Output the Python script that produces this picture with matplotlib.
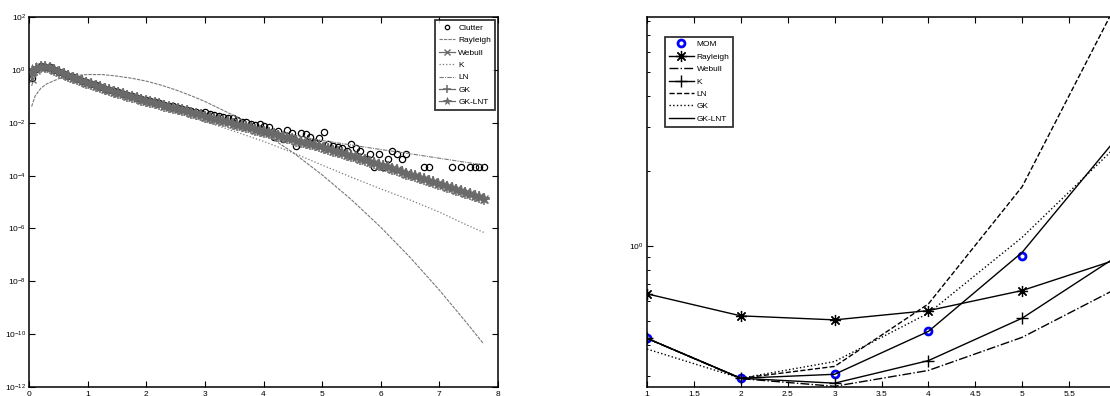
import numpy as np
import matplotlib
matplotlib.use('Agg')
import matplotlib.pyplot as plt
from matplotlib.ticker import LogLocator, NullFormatter, FixedLocator

plt.rcParams['font.family'] = ['Liberation Sans', 'DejaVu Sans']
plt.rcParams['mathtext.fontset'] = 'custom'
plt.rcParams['mathtext.rm'] = 'Liberation Sans'
plt.rcParams['mathtext.default'] = 'regular'

# ---- left panel: amplitude pdf fits (log10 of density) ----
bins = np.linspace(0.039, 7.761, 100)   # histogram bin centres
nan = np.nan

clutter_log = [
    -0.30, 0.05, 0.14, 0.12, 0.10, 0.02, -0.06, -0.14, -0.22, -0.28,
    -0.34, -0.41, -0.47, -0.53, -0.58, -0.64, -0.70, -0.75, -0.80, -0.85,
    -0.90, -0.95, -1.00, -1.04, -1.09, -1.14, -1.18, -1.22, -1.26, -1.31,
    -1.35, -1.38, -1.43, -1.47, -1.50, -1.54, -1.58, -1.63, -1.58, -1.68,
    -1.70, -1.74, -1.77, -1.80, -1.83, -1.90, -1.96, -1.98, -2.05, -2.08,
    -2.06, -2.12, -2.15, -2.52, -2.30, -2.62, -2.27, -2.40, -2.88, -2.37,
    -2.44, -2.52, -2.71, -2.56, -2.34, -2.81, -2.88, -2.92, -2.96, -3.06,
    -2.81, -2.96, -3.06, -3.36, -3.18, -3.66, -3.18, -3.66, -3.36, -3.06,
    -3.18, -3.36, -3.18, nan, nan, nan, -3.66, -3.66, nan, nan,
    nan, nan, -3.66, nan, -3.66, nan, -3.66, -3.66, -3.66, -3.66,
]

gklnt_log = [
    0.00, 0.09, 0.13, 0.12, 0.07, 0.00, -0.07, -0.15, -0.22, -0.29,
    -0.35, -0.42, -0.48, -0.54, -0.60, -0.65, -0.71, -0.77, -0.82, -0.87,
    -0.92, -0.97, -1.02, -1.07, -1.12, -1.17, -1.21, -1.26, -1.30, -1.35,
    -1.39, -1.44, -1.48, -1.53, -1.57, -1.62, -1.67, -1.71, -1.76, -1.80,
    -1.85, -1.89, -1.94, -1.98, -2.03, -2.08, -2.12, -2.17, -2.21, -2.26,
    -2.30, -2.35, -2.40, -2.44, -2.49, -2.53, -2.58, -2.62, -2.67, -2.71,
    -2.76, -2.80, -2.85, -2.89, -2.94, -2.99, -3.05, -3.10, -3.15, -3.21,
    -3.26, -3.31, -3.37, -3.42, -3.47, -3.52, -3.58, -3.64, -3.69, -3.75,
    -3.80, -3.86, -3.92, -3.97, -4.03, -4.08, -4.14, -4.20, -4.25, -4.31,
    -4.36, -4.42, -4.48, -4.53, -4.59, -4.64, -4.70, -4.76, -4.81, -4.87,
]
# Webull and GK only part from GK-LNT over the first few bins
webull_head = [-0.35, 0.02, 0.10, 0.11]
gk_head = [-0.20, 0.05, 0.12, 0.12]
webull_log = webull_head + gklnt_log[4:]
gk_log = gk_head + gklnt_log[4:]

ray_x = [0.04, 0.1, 0.2, 0.3, 0.5, 0.75, 1.0, 1.25, 1.5, 1.75, 2.0, 2.25, 2.5,
         2.75, 3.0, 3.5, 4.0, 4.5, 5.0, 5.5, 6.0, 6.5, 7.0, 7.5, 7.76]
ray_log = [-1.38, -0.98, -0.68, -0.52, -0.33, -0.21, -0.17, -0.17, -0.23, -0.31,
           -0.42, -0.57, -0.75, -0.96, -1.19, -1.73, -2.38, -3.12, -3.97, -4.91,
           -5.95, -7.09, -8.33, -9.66, -10.38]

tail_x = [0.04, 0.12, 0.2, 0.3, 0.5, 1.0, 1.5, 2.0, 2.5, 3.0,
          3.5, 4.0, 4.5, 5.0, 5.5, 6.0, 6.5, 7.0, 7.5, 7.76]
k_log = [-0.15, 0.05, 0.10, 0.07, -0.10, -0.55, -0.92, -1.25, -1.60, -1.95,
         -2.32, -2.70, -3.13, -3.60, -4.06, -4.50, -4.92, -5.38, -5.90, -6.15]
ln_log = [-0.60, -0.05, 0.08, 0.06, -0.08, -0.52, -0.88, -1.18, -1.45, -1.72,
          -1.98, -2.22, -2.46, -2.67, -2.84, -3.01, -3.17, -3.34, -3.51, -3.60]

# ---- right panel: fit error per data set ----
sets = [1, 2, 3, 4, 5, 6]
mom = [0.424, 0.293, 0.304, 0.452, 0.909]
rayleigh = [0.640, 0.522, 0.503, 0.548, 0.660, 0.877]
webull = [0.424, 0.292, 0.272, 0.315, 0.428, 0.670]
k_err = [0.424, 0.293, 0.280, 0.345, 0.511, 0.900]
ln_err = [0.424, 0.293, 0.327, 0.583, 1.726, 9.3]
gk_err = [0.384, 0.293, 0.342, 0.535, 1.080, 2.50]
gklnt_err = [0.424, 0.293, 0.304, 0.452, 0.940, 2.68]
set_ticks = [1, 1.5, 2, 2.5, 3, 3.5, 4, 4.5, 5, 5.5]
set_labels = ['1', '1.5', '2', '2.5', '3', '3.5', '4', '4.5', '5', '5.5']

W, H = 1110, 396
fig = plt.figure(figsize=(W / 100, H / 100), dpi=100)
ax1 = fig.add_axes([29.3 / W, 9.3 / H, 468.4 / W, 369.4 / H])
ax2 = fig.add_axes([647 / W, 9.3 / H, 469 / W, 369.4 / H])

grey = '#6a6a6a'
thin = '#7a7a7a'
p = lambda v: 10 ** np.asarray(v, dtype=float)
asterisk = (8, 2, 0)

ax1.plot(bins, p(clutter_log), 'o', mfc='none', mec='k', ms=4.5, mew=0.9, label='Clutter')
ax1.plot(ray_x, p(ray_log), '--', color=thin, lw=0.8, dashes=(3, 1), label='Rayleigh')
ax1.plot(bins, p(webull_log), '-x', color=grey, lw=0.9, ms=6, mew=1.0, label='Webull')
ax1.plot(tail_x, p(k_log), ':', color=thin, lw=0.9, label='K')
ax1.plot(tail_x, p(ln_log), '-.', color=thin, lw=0.8, dashes=(4, 1, 1, 1), label='LN')
ax1.plot(bins, p(gk_log), '-+', color=grey, lw=0.9, ms=8, mew=1.1, label='GK')
ax1.plot(bins, p(gklnt_log), '-*', color=grey, lw=0.9, ms=8, mew=0.6, label='GK-LNT')

ax1.set_yscale('log')
ax1.set_xlim(0, 8)
ax1.set_ylim(1e-12, 1e2)
ax1.xaxis.set_major_locator(FixedLocator(range(9)))
ax1.yaxis.set_major_locator(FixedLocator([10.0 ** e for e in range(-12, 3, 2)]))
ax1.yaxis.set_minor_locator(FixedLocator([]))
ax1.set_yticklabels([r'$10^{%d}$' % e for e in range(-12, 3, 2)])

leg1 = ax1.legend(loc='upper right', fontsize=6, frameon=True, fancybox=False,
                  borderaxespad=0.35, borderpad=0.45, labelspacing=0.55,
                  handlelength=2.0, handletextpad=0.35, numpoints=1, markerscale=0.7)
leg1.get_frame().set_edgecolor('k')
leg1.get_frame().set_linewidth(1.3)

ax2.plot(sets[:5], mom, 'o', mfc='none', mec='#0000ff', ms=5, mew=2.0, label='MOM')
ax2.plot(sets, rayleigh, '-', marker=asterisk, color='k', lw=1.0, ms=8, mew=0.9, label='Rayleigh')
ax2.plot(sets, webull, '-.', color='k', lw=1.0, label='Webull')
ax2.plot(sets, k_err, '-+', color='k', lw=1.0, ms=9, mew=1.0, label='K')
ax2.plot(sets, ln_err, '--', color='k', lw=1.0, label='LN')
ax2.plot(sets, gk_err, ':', color='k', lw=1.0, label='GK')
ax2.plot(sets, gklnt_err, '-', color='k', lw=1.0, label='GK-LNT')

ax2.set_yscale('log')
ax2.set_xlim(1, 6)
ax2.set_ylim(0.271, 8.27)
ax2.xaxis.set_major_locator(FixedLocator(set_ticks))
ax2.set_xticklabels(set_labels)
ax2.yaxis.set_major_locator(FixedLocator([1.0]))
ax2.set_yticklabels([r'$10^{0}$'])
ax2.yaxis.set_minor_locator(LogLocator(base=10, subs=np.arange(2, 10)))
ax2.yaxis.set_minor_formatter(NullFormatter())

ax_w = 469
leg2 = ax2.legend(loc='upper left', bbox_to_anchor=(18 / ax_w, 1 - 19.4 / 369.4),
                  borderaxespad=0, fontsize=6, frameon=True, fancybox=False,
                  borderpad=0.45, labelspacing=0.55, handlelength=3.0,
                  handletextpad=0.35, numpoints=1)
leg2.get_frame().set_edgecolor('k')
leg2.get_frame().set_linewidth(1.3)

for ax in (ax1, ax2):
    for s in ax.spines.values():
        s.set_linewidth(1.1)
    ax.tick_params(which='major', direction='in', length=4, width=0.8,
                   top=True, right=True, labelsize=6, pad=2.8)
    ax.tick_params(which='minor', direction='in', length=2.5, width=0.7,
                   top=True, right=True)
ax1.tick_params(axis='y', pad=2.5)
ax2.tick_params(axis='y', pad=2.5)

fig.savefig('out.png', dpi=100)
